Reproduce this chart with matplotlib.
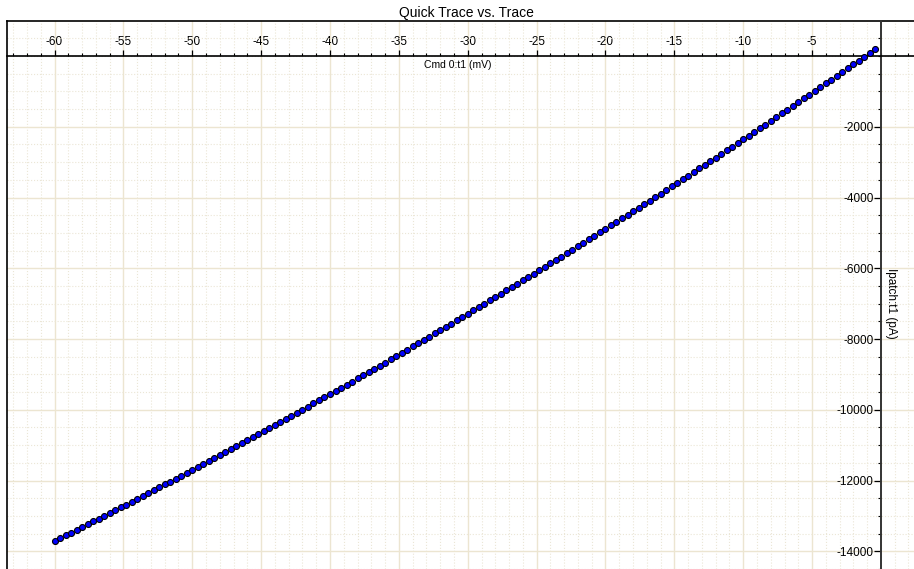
import matplotlib
matplotlib.use('Agg')
import matplotlib.pyplot as plt
import matplotlib.transforms as mtransforms
from matplotlib.ticker import FixedLocator, MultipleLocator

plt.rcParams['font.family'] = ['Liberation Sans', 'DejaVu Sans']

cmd_mv = [
    -60.0, -59.6, -59.2, -58.8, -58.4, -58.0, -57.6, -57.2, -56.8, -56.4,
    -56.0, -55.6, -55.2, -54.8, -54.4, -54.0, -53.6, -53.2, -52.8, -52.4,
    -52.0, -51.6, -51.2, -50.8, -50.4, -50.0, -49.6, -49.2, -48.8, -48.4,
    -48.0, -47.6, -47.2, -46.8, -46.4, -46.0, -45.6, -45.2, -44.8, -44.4,
    -44.0, -43.6, -43.2, -42.8, -42.4, -42.0, -41.6, -41.2, -40.8, -40.4,
    -40.0, -39.6, -39.2, -38.8, -38.4, -38.0, -37.6, -37.2, -36.8, -36.4,
    -36.0, -35.6, -35.2, -34.8, -34.4, -34.0, -33.6, -33.2, -32.8, -32.4,
    -32.0, -31.6, -31.2, -30.8, -30.4, -30.0, -29.6, -29.2, -28.8, -28.4,
    -28.0, -27.6, -27.2, -26.8, -26.4, -26.0, -25.6, -25.2, -24.8, -24.4,
    -24.0, -23.6, -23.2, -22.8, -22.4, -22.0, -21.6, -21.2, -20.8, -20.4,
    -20.0, -19.6, -19.2, -18.8, -18.4, -18.0, -17.6, -17.2, -16.8, -16.4,
    -16.0, -15.6, -15.2, -14.8, -14.4, -14.0, -13.6, -13.2, -12.8, -12.4,
    -12.0, -11.6, -11.2, -10.8, -10.4, -10.0, -9.6, -9.2, -8.8, -8.4,
    -8.0, -7.6, -7.2, -6.8, -6.4, -6.0, -5.6, -5.2, -4.8, -4.4,
    -4.0, -3.6, -3.2, -2.8, -2.4, -2.0, -1.6, -1.2, -0.8, -0.4,
]
ipatch_pa = [
    -13707, -13629, -13551, -13473, -13394, -13316, -13237, -13157, -13078, -12999,
    -12919, -12839, -12759, -12678, -12597, -12517, -12436, -12354, -12273, -12191,
    -12109, -12027, -11945, -11862, -11780, -11697, -11614, -11530, -11447, -11363,
    -11279, -11195, -11111, -11026, -10941, -10856, -10771, -10686, -10600, -10514,
    -10428, -10342, -10255, -10169, -10082, -9995, -9908, -9820, -9732, -9644,
    -9556, -9468, -9379, -9291, -9202, -9113, -9023, -8934, -8844, -8754,
    -8664, -8573, -8483, -8392, -8301, -8210, -8118, -8026, -7935, -7842,
    -7750, -7658, -7565, -7472, -7379, -7286, -7192, -7098, -7004, -6910,
    -6816, -6721, -6627, -6532, -6436, -6341, -6245, -6150, -6053, -5957,
    -5861, -5764, -5667, -5570, -5473, -5375, -5278, -5180, -5082, -4983,
    -4885, -4786, -4687, -4588, -4489, -4389, -4289, -4189, -4089, -3989,
    -3888, -3787, -3686, -3585, -3484, -3382, -3280, -3178, -3076, -2973,
    -2871, -2768, -2665, -2561, -2458, -2354, -2250, -2146, -2042, -1937,
    -1832, -1727, -1622, -1517, -1411, -1305, -1199, -1093, -987, -880,
    -773, -666, -559, -451, -344, -236, -128, -19, 89, 198,
]

x_ticks = [-60, -55, -50, -45, -40, -35, -30, -25, -20, -15, -10, -5]
y_ticks = [-14000, -12000, -10000, -8000, -6000, -4000, -2000]

title = 'Quick Trace vs. Trace'
x_label = 'Cmd 0:t1 (mV)'
y_label = 'Ipatch:t1 (pA)'

fig = plt.figure(figsize=(9.14, 5.69), dpi=100)
ax = fig.add_axes([7 / 914, 0, 907 / 914, 548 / 569])

ax.plot(cmd_mv, ipatch_pa, ls='none', marker='o', ms=4.3, mfc='#0000ff',
        mec='black', mew=0.8, zorder=4, clip_on=False)

ax.set_xlim(-63.45, 2.4)
ax.set_ylim(-14500, 990)

# axes cross at the origin
ax.spines['top'].set_position(('data', 0))
ax.spines['left'].set_position(('data', 0))
ax.spines['bottom'].set_visible(False)
ax.spines['right'].set_visible(False)
ax.spines['top'].set_linewidth(1.2)
ax.spines['left'].set_linewidth(1.4)
ax.spines['left'].set_color('#333333')
ax.xaxis.set_ticks_position('top')
ax.yaxis.set_ticks_position('left')

# outer frame
ax.plot([0, 0], [0, 1], transform=ax.transAxes, color='black', lw=1.2, clip_on=False)
ax.plot([0, 1], [1, 1], transform=ax.transAxes, color='black', lw=1.2, clip_on=False)

ax.xaxis.set_major_locator(FixedLocator(x_ticks))
ax.set_xticklabels([str(t) for t in x_ticks])
ax.xaxis.set_minor_locator(MultipleLocator(1))
ax.yaxis.set_major_locator(FixedLocator(y_ticks))
ax.set_yticklabels([str(t) for t in y_ticks])
ax.yaxis.set_minor_locator(MultipleLocator(500))

ax.tick_params(axis='x', which='major', direction='out', length=4.1, width=0.9, pad=1.5, labelsize=8.5)
ax.tick_params(axis='x', which='minor', direction='out', length=2.4, width=0.8)
ax.tick_params(axis='y', which='major', direction='out', length=4.7, width=0.9, pad=0.5, labelsize=8.5)
ax.tick_params(axis='y', which='minor', direction='out', length=2.5, width=0.8)

ax.set_axisbelow(True)
ax.grid(which='major', color='#ece5d1', lw=1.0)
ax.grid(which='minor', color='#ebe6d6', lw=0.8, ls=':')

ax.set_title(title, fontsize=10, pad=3, x=0.507)

xl_trans = mtransforms.offset_copy(
    mtransforms.blended_transform_factory(ax.transAxes, ax.transData),
    fig=fig, x=0, y=-4, units='dots')
ax.text(0.497, 0, x_label, transform=xl_trans, ha='center', va='top', fontsize=7.5)

yl_trans = mtransforms.offset_copy(ax.transData, fig=fig, x=4, y=0, units='dots')
ax.text(0, -7000, y_label, transform=yl_trans, rotation=-90, ha='left',
        va='center', fontsize=8.5)

fig.savefig('out.png', dpi=100)
